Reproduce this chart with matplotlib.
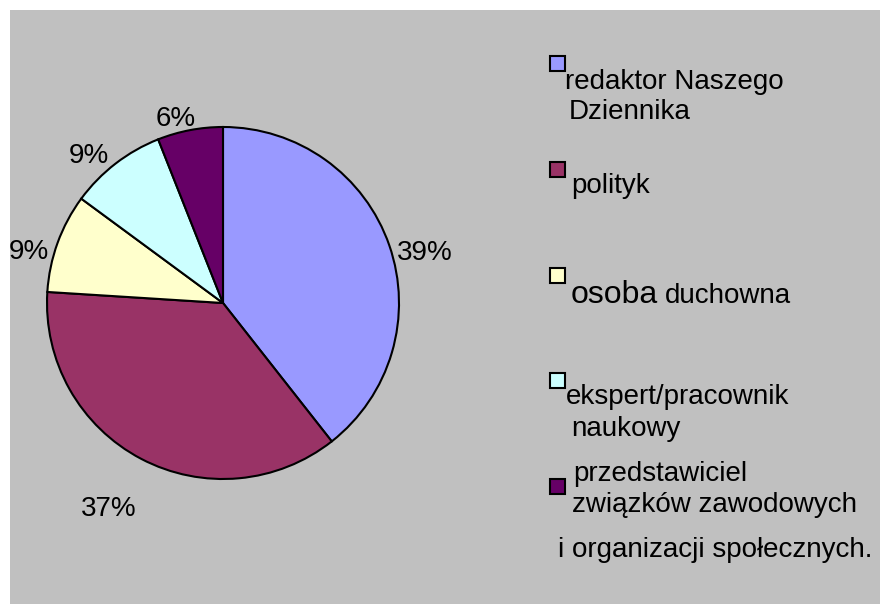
import numpy as np
import matplotlib
matplotlib.use("Agg")
import matplotlib.pyplot as plt
from matplotlib.patches import Rectangle

plt.rcParams['font.family'] = ['Liberation Sans', 'DejaVu Sans']

# ---- data ----
categories = ["redaktor Naszego\nDziennika", "polityk", "osoba duchowna",
              "ekspert/pracownik\nnaukowy",
              "przedstawiciel\nzwiązków zawodowych\ni organizacji społecznych."]
values = [39.4, 36.6, 9.1, 8.9, 6.0]
colors = ["#9999FF", "#993366", "#FFFFCC", "#CCFFFF", "#660066"]

W, H = 880, 604
fig = plt.figure(figsize=(W / 100, H / 100), dpi=100, facecolor="white")
ax = fig.add_axes([0, 0, 1, 1])
ax.set_xlim(0, W)
ax.set_ylim(0, H)
ax.set_aspect("equal")
ax.axis("off")

# gray chart area
ax.add_patch(Rectangle((10, 0), W - 10, H - 10, facecolor="#C0C0C0",
                       edgecolor="none", zorder=0))

cx, cy, R = 223, H - 303, 176
wedges, _ = ax.pie(values, colors=colors, startangle=90, counterclock=False,
                   center=(cx, cy), radius=R, frame=True,
                   wedgeprops=dict(edgecolor="black", linewidth=1.5))
ax.set_xlim(0, W)
ax.set_ylim(0, H)
ax.axis("off")

# percentage labels (Excel-like outside placement)
label_adj = [(-5.1, 1.18), (-1.4, 1.34), (5.4, 1.14), (4.8, 1.13), (3.6, 1.08)]
total = sum(values)
for w, v, (da, d) in zip(wedges, values, label_adj):
    mid = np.deg2rad((w.theta1 + w.theta2) / 2 + da)
    x = cx + R * d * np.cos(mid)
    y = cy + R * d * np.sin(mid)
    ax.text(x, y, f"{round(v / total * 100):.0f}%", fontsize=20,
            ha="center", va="center", color="black", zorder=5)

# legend
fs = 20
sq_tops = [56, 162, 268, 373, 479]
for top, c in zip(sq_tops, colors):
    ax.add_patch(Rectangle((550, H - top - 15), 15, 15, facecolor=c,
                           edgecolor="black", linewidth=1.5, zorder=5))

def t(x, ybase, s, size=fs):
    ax.text(x, H - ybase, s, fontsize=size, ha="left", va="baseline",
            color="black", zorder=5)

l0 = categories[0].split("\n")
t(565, 89, l0[0])
t(569, 119, l0[1])
t(571, 193, categories[1])
o1, o2 = categories[2].split(" ")
t(571, 303, o1, size=23)
t(665, 303, o2)
l3 = categories[3].split("\n")
t(566, 404, l3[0])
t(571, 436, l3[1])
l4 = categories[4].split("\n")
t(573, 481, l4[0])
t(572, 512, l4[1])
t(558, 557, l4[2])

fig.savefig("out.png", dpi=100, facecolor="white")
